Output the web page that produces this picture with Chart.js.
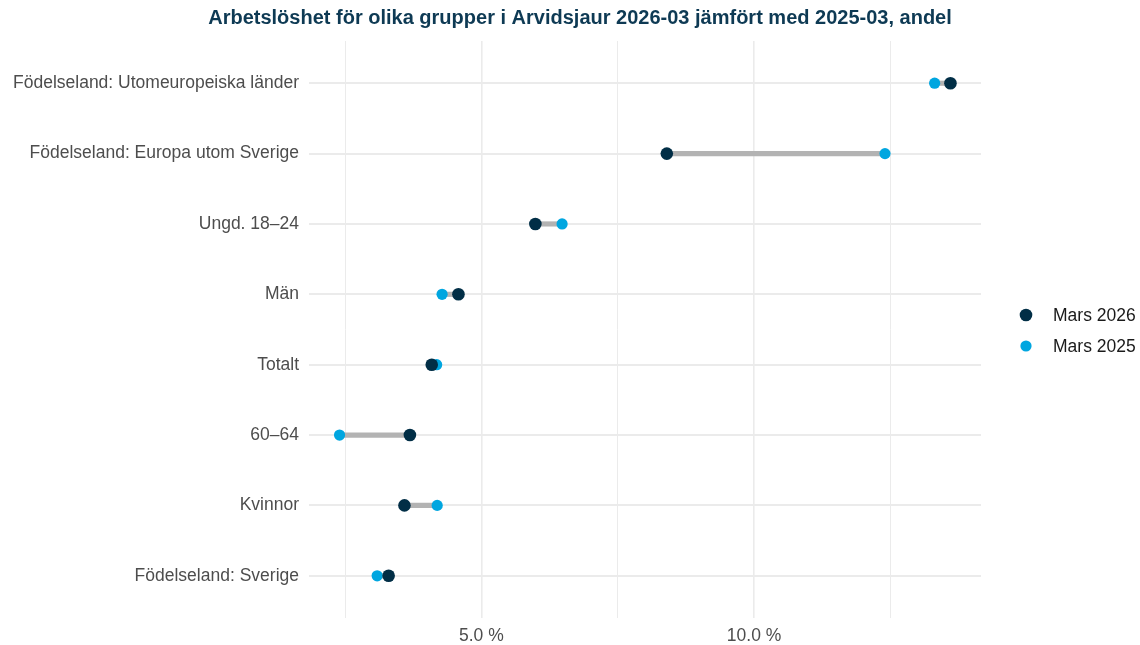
<!DOCTYPE html>
<html>
<head>
<meta charset="utf-8">
<script src="https://cdn.jsdelivr.net/npm/chart.js@4"></script>
<style>
  body { margin: 0; background: #fff; }
  #wrap { width: 1140px; height: 645px; }
</style>
</head>
<body>
<div id="wrap"><canvas id="dumbbell" width="1140" height="645"></canvas></div>
<script>
const titleText = 'Arbetslöshet för olika grupper i Arvidsjaur 2026-03 jämfört med 2025-03, andel';
const groups = [
  'Födelseland: Utomeuropeiska länder',
  'Födelseland: Europa utom Sverige',
  'Ungd. 18–24',
  'Män',
  'Totalt',
  '60–64',
  'Kvinnor',
  'Födelseland: Sverige'
];
const mars2026 = [13.60, 8.40, 5.99, 4.58, 4.09, 3.69, 3.59, 3.30];
const mars2025 = [13.31, 12.40, 6.48, 4.28, 4.18, 2.40, 4.19, 3.09];
const seriesLabels = ['Mars 2026', 'Mars 2025'];
const xGridValues = [2.5, 5, 7.5, 10, 12.5];

const dark = '#012e46';
const light = '#00a6e0';
const font = '"Liberation Sans", Arial, sans-serif';

// axis range like ggplot's 5% expansion
const all = mars2026.concat(mars2025);
const lo = Math.min(...all), hi = Math.max(...all);
const pad = (hi - lo) * 0.05;

const segments = groups.map((g, i) => ({
  x: [Math.min(mars2026[i], mars2025[i]), Math.max(mars2026[i], mars2025[i])],
  y: i
}));

const legendAndTitle = {
  id: 'legendAndTitle',
  afterDraw(chart) {
    const ctx = chart.ctx;
    ctx.save();
    ctx.font = 'bold 20px ' + font;
    ctx.fillStyle = '#0e3a54';
    ctx.textAlign = 'center';
    ctx.textBaseline = 'middle';
    ctx.fillText(titleText, 580, 18);

    const items = [
      { label: seriesLabels[0], color: dark, r: 6.3 },
      { label: seriesLabels[1], color: light, r: 5.6 }
    ];
    ctx.font = '17.5px ' + font;
    ctx.textAlign = 'left';
    items.forEach((it, k) => {
      const cy = 315 + k * 31;
      ctx.fillStyle = it.color;
      ctx.beginPath();
      ctx.arc(1026, cy, it.r, 0, Math.PI * 2);
      ctx.fill();
      ctx.fillStyle = '#1a1a1a';
      ctx.fillText(it.label, 1053, cy + 1);
    });
    ctx.restore();
  }
};

new Chart(document.getElementById('dumbbell'), {
  type: 'bar',
  data: {
    datasets: [
      {
        type: 'line',
        label: seriesLabels[1],
        data: groups.map((g, i) => ({ x: mars2025[i], y: i })),
        showLine: false,
        pointRadius: 5.6,
        pointBackgroundColor: light,
        pointBorderWidth: 0,
        order: 2
      },
      {
        type: 'line',
        label: seriesLabels[0],
        data: groups.map((g, i) => ({ x: mars2026[i], y: i })),
        showLine: false,
        pointRadius: 6.3,
        pointBackgroundColor: dark,
        pointBorderWidth: 0,
        order: 1
      },
      {
        label: 'diff',
        data: segments,
        backgroundColor: '#b3b3b3',
        barThickness: 4.5,
        order: 3
      }
    ]
  },
  options: {
    responsive: false,
    animation: false,
    indexAxis: 'y',
    layout: { padding: { left: 0, right: 159, top: 41, bottom: 0 } },
    plugins: {
      legend: { display: false },
      title: { display: false },
      tooltip: { enabled: false }
    },
    scales: {
      x: {
        type: 'linear',
        min: lo - pad,
        max: hi + pad,
        bounds: 'data',
        offset: false,
        afterBuildTicks(scale) { scale.ticks = xGridValues.map(v => ({ value: v })); },
        afterFit(scale) { scale.height = 27; },
        border: { display: false },
        grid: {
          color: '#ebebeb',
          drawTicks: false,
          offset: false,
          lineWidth: c => (c.tick && c.tick.value % 5 === 0) ? 1.6 : 1
        },
        ticks: {
          padding: 8,
          color: '#4d4d4d',
          font: { family: font, size: 17.5 },
          callback: v => (v % 5 === 0) ? v.toFixed(1) + ' %' : ''
        }
      },
      y: {
        type: 'linear',
        reverse: true,
        min: -0.6,
        max: groups.length - 1 + 0.6,
        bounds: 'data',
        offset: false,
        afterBuildTicks(scale) { scale.ticks = groups.map((g, i) => ({ value: i })); },
        afterFit(scale) { scale.width = 309; },
        border: { display: false },
        grid: { color: '#ebebeb', lineWidth: 2, drawTicks: false, offset: false },
        ticks: {
          padding: 10,
          color: '#4d4d4d',
          font: { family: font, size: 17.5 },
          callback: v => groups[v] || ''
        }
      }
    }
  },
  plugins: [legendAndTitle]
});
</script>
</body>
</html>
